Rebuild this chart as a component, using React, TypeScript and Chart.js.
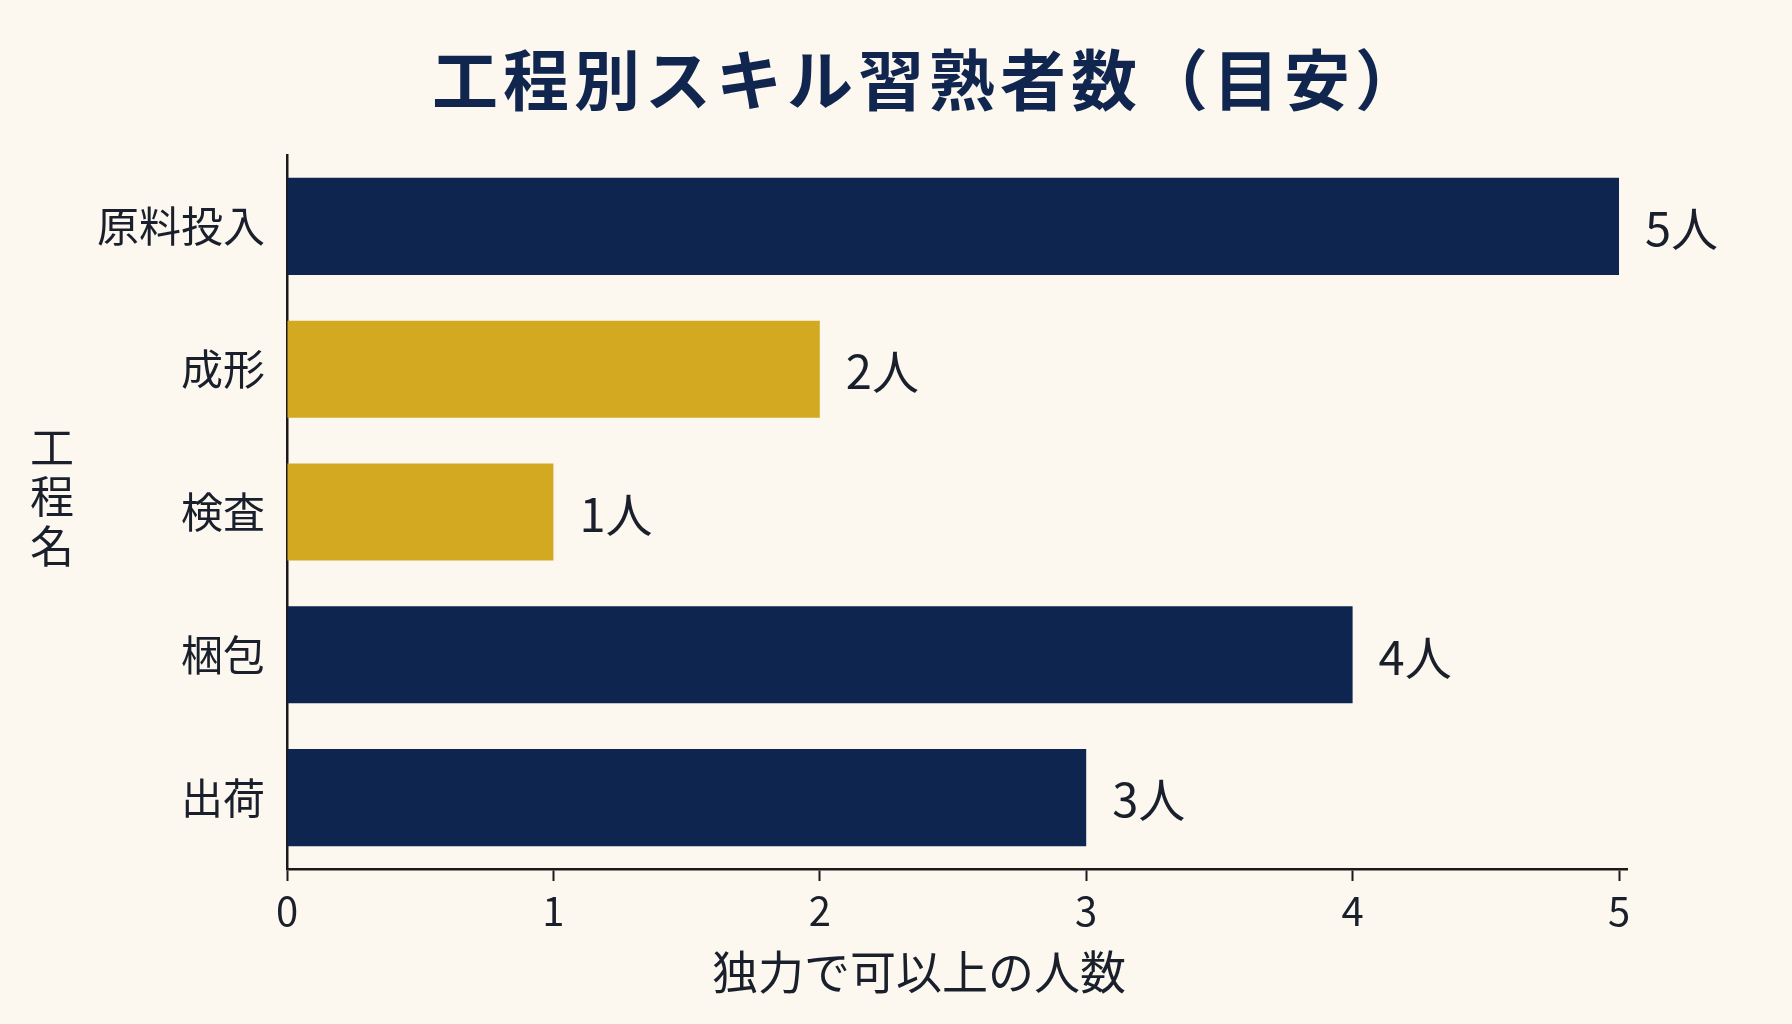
import { useEffect, useRef } from "react"
import { Chart, registerables } from "chart.js"

Chart.register(...registerables)

// chart data
const processes = ["原料投入", "成形", "検査", "梱包", "出荷"]
const skilledCounts = [5, 2, 1, 4, 3]
const barColors = ["#0e2550", "#d3a922", "#d3a922", "#0e2550", "#0e2550"]
const xTickValues = [0, 1, 2, 3, 4, 5]
const unitSuffix = "人"

const chartTitle = "工程別スキル習熟者数（目安）"
const xAxisTitle = "独力で可以上の人数"
const yAxisTitle = "工程名"

const FONT = "'Noto Sans CJK JP', 'Noto Sans', sans-serif"
const BG = "#fcf8f0"
const TEXT = "#1a1f2c"

// draws background, title, axis titles and the value labels next to each bar
const decorPlugin = {
  id: "decor",
  beforeDraw(chart: Chart) {
    const { ctx, width, height } = chart
    ctx.save()
    ctx.fillStyle = BG
    ctx.fillRect(0, 0, width, height)
    ctx.restore()
  },
  afterDraw(chart: Chart) {
    const { ctx } = chart
    ctx.save()

    // title
    ctx.fillStyle = "#11264f"
    ctx.font = `bold 66px ${FONT}`
    ctx.textAlign = "center"
    ctx.textBaseline = "middle"
    ;(ctx as any).letterSpacing = "5px"
    ctx.fillText(chartTitle, 929, 80)
    ;(ctx as any).letterSpacing = "0px"

    // x axis title
    ctx.fillStyle = TEXT
    ctx.font = `46px ${FONT}`
    ctx.fillText(xAxisTitle, 919, 972)

    // y axis title, stacked vertically
    ctx.font = `44px ${FONT}`
    Array.from(yAxisTitle).forEach((ch, i) => {
      ctx.fillText(ch, 52, 447 + i * 49.5)
    })

    // value labels
    const meta = chart.getDatasetMeta(0)
    ctx.font = `47px ${FONT}`
    ctx.textAlign = "left"
    meta.data.forEach((bar: any, i: number) => {
      ctx.fillText(`${skilledCounts[i]}${unitSuffix}`, bar.x + 26, bar.y + 2)
    })

    ctx.restore()
  },
}

export default function App() {
  const chartRef = useRef<HTMLCanvasElement>(null)
  const chartInstance = useRef<Chart | null>(null)

  useEffect(() => {
    document.body.style.margin = "0"
    document.body.style.background = BG
    if (!chartRef.current) return

    if (chartInstance.current) {
      chartInstance.current.destroy()
    }

    const ctx = chartRef.current.getContext("2d")
    if (ctx) {
      chartInstance.current = new Chart(ctx, {
        type: "bar",
        data: {
          labels: processes,
          datasets: [
            {
              label: "人数",
              data: skilledCounts,
              backgroundColor: barColors,
              borderWidth: 0,
              categoryPercentage: 1,
              barPercentage: 0.68,
            },
          ],
        },
        options: {
          indexAxis: "y",
          responsive: false,
          animation: false,
          layout: {
            padding: { top: 155, right: 165, bottom: 0, left: 0 },
          },
          scales: {
            x: {
              min: 0,
              max: 5.03,
              afterBuildTicks: (scale: any) => {
                scale.ticks = xTickValues.map((v) => ({ value: v }))
              },
              afterFit: (scale: any) => {
                scale.height = 1024 - 869
              },
              grid: {
                drawOnChartArea: false,
                drawTicks: true,
                tickLength: 12,
                tickWidth: 2,
                tickColor: "#1a1a1a",
              },
              border: { display: true, color: "#1a1a1a", width: 2.5 },
              ticks: {
                color: TEXT,
                padding: 6,
                font: { family: FONT, size: 40 },
              },
            },
            y: {
              afterFit: (scale: any) => {
                scale.width = 287
              },
              grid: { drawOnChartArea: false, drawTicks: false },
              border: { display: true, color: "#1a1a1a", width: 2.5 },
              ticks: {
                color: TEXT,
                padding: 22,
                font: { family: FONT, size: 42 },
              },
            },
          },
          plugins: {
            legend: { display: false },
            title: { display: false },
            tooltip: { enabled: false },
          },
        },
        plugins: [decorPlugin],
      })
    }

    return () => {
      if (chartInstance.current) {
        chartInstance.current.destroy()
        chartInstance.current = null
      }
    }
  }, [])

  return (
    <div style={{ width: 1792, height: 1024, background: BG }}>
      <canvas ref={chartRef} width={1792} height={1024} style={{ display: "block" }} />
    </div>
  )
}
